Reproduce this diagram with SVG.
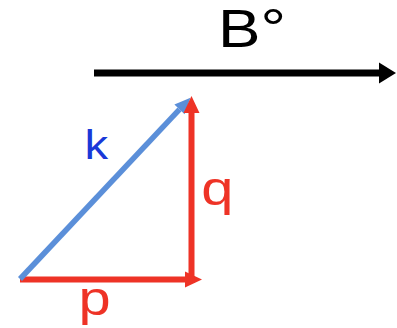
<svg xmlns="http://www.w3.org/2000/svg" width="397" height="328" viewBox="0 0 397 328">
  <style>
    .lbl { font-family: "Liberation Sans", Arial, Helvetica, sans-serif; }
    .red { stroke: #ee3326; fill: none; stroke-width: 6; }
    .blue { stroke: #5b8fd9; fill: none; stroke-width: 5.5; }
    .black { stroke: #000; fill: none; stroke-width: 7; }
  </style>
  <defs>
    <marker id="hRed" markerUnits="userSpaceOnUse" markerWidth="17" markerHeight="16" refX="0" refY="8" orient="auto" overflow="visible">
      <path d="M0,0 L17,8 L0,16 z" fill="#ee3326"/>
    </marker>
    <marker id="hBlue" markerUnits="userSpaceOnUse" markerWidth="16" markerHeight="14" refX="0" refY="7" orient="auto" overflow="visible">
      <path d="M0,0 L16,7 L0,14 z" fill="#5b8fd9"/>
    </marker>
    <marker id="hBlack" markerUnits="userSpaceOnUse" markerWidth="17" markerHeight="21" refX="0" refY="10.5" orient="auto" overflow="visible">
      <path d="M0,0 L17,10.5 L0,21 z" fill="#000"/>
    </marker>
  </defs>
  <g id="connectors">
    <line id="field" class="black" x1="94" y1="73" x2="379" y2="73" marker-end="url(#hBlack)"/>
    <line id="p-vec" class="red" x1="20" y1="279.5" x2="185" y2="279.5" marker-end="url(#hRed)"/>
    <line id="k-vec" class="blue" x1="20" y1="279" x2="179.5" y2="109.4" marker-end="url(#hBlue)"/>
    <line id="q-vec" class="red" x1="191.5" y1="283" x2="191.5" y2="113" marker-end="url(#hRed)"/>
  </g>
  <g id="label-B">
    <text class="lbl" transform="translate(218,47) scale(1.18,1)" font-size="54" fill="#000">B°</text>
  </g>
  <g id="label-k">
    <text class="lbl" transform="translate(84.5,159.3) scale(1.18,1)" font-size="40" fill="#1a38d8">k</text>
  </g>
  <g id="label-q">
    <text class="lbl" transform="translate(201.3,204.7) scale(1.18,1)" font-size="49" fill="#ee3326">q</text>
  </g>
  <g id="label-p">
    <text class="lbl" transform="translate(78.5,315.4) scale(1.18,1)" font-size="49" fill="#ee3326">p</text>
  </g>
</svg>
